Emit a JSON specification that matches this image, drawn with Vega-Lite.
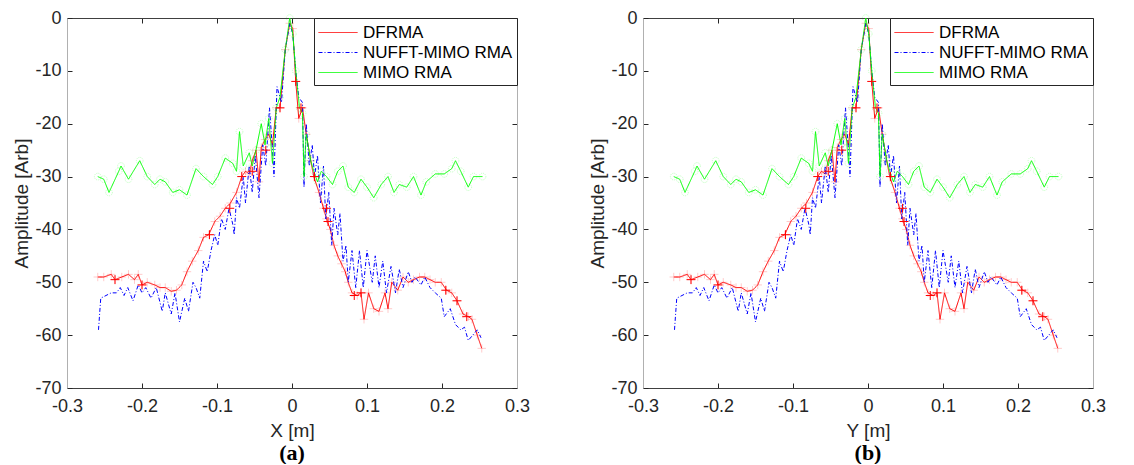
{
"$schema": "https://vega.github.io/schema/vega-lite/v6.json",
"background": "white",
"padding": {"left": 12, "top": 9, "right": 5, "bottom": 0},
"spacing": 58,
"config": {
  "font": "Liberation Sans",
  "view": {"stroke": null},
  "axis": {"grid": false, "labelFont": "Liberation Sans", "labelFontSize": 18, "labelColor": "#262626", "titleFont": "Liberation Sans", "titleFontSize": 19, "titleFontWeight": "normal", "titleColor": "#262626", "tickColor": "#262626", "domainColor": "#404040", "tickSize": -5, "labelPadding": 11, "labelFlush": false, "labelOverlap": false},
  "legend": {"labelFont": "Liberation Sans", "labelFontSize": 17, "labelColor": "#000000"}
},
"datasets": {
  "curves": [
    {"series":"DFRMA","x":-0.259,"y":-49},{"series":"DFRMA","x":-0.251,"y":-49},{"series":"DFRMA","x":-0.241,"y":-48.5},{"series":"DFRMA","x":-0.236,"y":-49.5},{"series":"DFRMA","x":-0.227,"y":-49},{"series":"DFRMA","x":-0.218,"y":-48.5},{"series":"DFRMA","x":-0.210,"y":-49.5},{"series":"DFRMA","x":-0.205,"y":-48.5},{"series":"DFRMA","x":-0.200,"y":-50.5},{"series":"DFRMA","x":-0.193,"y":-50},{"series":"DFRMA","x":-0.183,"y":-50.5},{"series":"DFRMA","x":-0.176,"y":-51},{"series":"DFRMA","x":-0.169,"y":-51},{"series":"DFRMA","x":-0.161,"y":-51.7},{"series":"DFRMA","x":-0.154,"y":-51.5},{"series":"DFRMA","x":-0.147,"y":-50.5},{"series":"DFRMA","x":-0.140,"y":-48},{"series":"DFRMA","x":-0.133,"y":-46},{"series":"DFRMA","x":-0.125,"y":-44},{"series":"DFRMA","x":-0.118,"y":-41.5},{"series":"DFRMA","x":-0.111,"y":-41},{"series":"DFRMA","x":-0.103,"y":-38.5},{"series":"DFRMA","x":-0.096,"y":-37.5},{"series":"DFRMA","x":-0.089,"y":-36},{"series":"DFRMA","x":-0.082,"y":-35},{"series":"DFRMA","x":-0.074,"y":-33},{"series":"DFRMA","x":-0.067,"y":-30},{"series":"DFRMA","x":-0.062,"y":-29},{"series":"DFRMA","x":-0.057,"y":-29.5},{"series":"DFRMA","x":-0.053,"y":-27},{"series":"DFRMA","x":-0.048,"y":-25},{"series":"DFRMA","x":-0.044,"y":-31},{"series":"DFRMA","x":-0.041,"y":-24.5},{"series":"DFRMA","x":-0.036,"y":-23},{"series":"DFRMA","x":-0.031,"y":-22},{"series":"DFRMA","x":-0.026,"y":-24},{"series":"DFRMA","x":-0.021,"y":-17},{"series":"DFRMA","x":-0.016,"y":-17},{"series":"DFRMA","x":-0.009,"y":-6},{"series":"DFRMA","x":-0.003,"y":-1},{"series":"DFRMA","x":0.001,"y":-2},{"series":"DFRMA","x":0.005,"y":-12},{"series":"DFRMA","x":0.009,"y":-19},{"series":"DFRMA","x":0.014,"y":-17},{"series":"DFRMA","x":0.019,"y":-22},{"series":"DFRMA","x":0.025,"y":-27},{"series":"DFRMA","x":0.029,"y":-30},{"series":"DFRMA","x":0.036,"y":-33},{"series":"DFRMA","x":0.042,"y":-36},{"series":"DFRMA","x":0.046,"y":-38},{"series":"DFRMA","x":0.051,"y":-40},{"series":"DFRMA","x":0.056,"y":-43},{"series":"DFRMA","x":0.061,"y":-45},{"series":"DFRMA","x":0.066,"y":-46.5},{"series":"DFRMA","x":0.071,"y":-48},{"series":"DFRMA","x":0.075,"y":-50},{"series":"DFRMA","x":0.080,"y":-52},{"series":"DFRMA","x":0.087,"y":-52.5},{"series":"DFRMA","x":0.092,"y":-52},{"series":"DFRMA","x":0.096,"y":-57},{"series":"DFRMA","x":0.102,"y":-52},{"series":"DFRMA","x":0.109,"y":-55},{"series":"DFRMA","x":0.116,"y":-55.5},{"series":"DFRMA","x":0.124,"y":-52},{"series":"DFRMA","x":0.128,"y":-55},{"series":"DFRMA","x":0.133,"y":-50},{"series":"DFRMA","x":0.141,"y":-51.5},{"series":"DFRMA","x":0.148,"y":-49},{"series":"DFRMA","x":0.155,"y":-50},{"series":"DFRMA","x":0.162,"y":-49.5},{"series":"DFRMA","x":0.170,"y":-49},{"series":"DFRMA","x":0.177,"y":-49},{"series":"DFRMA","x":0.184,"y":-49.5},{"series":"DFRMA","x":0.191,"y":-50},{"series":"DFRMA","x":0.199,"y":-50},{"series":"DFRMA","x":0.206,"y":-51.5},{"series":"DFRMA","x":0.213,"y":-52},{"series":"DFRMA","x":0.220,"y":-53.5},{"series":"DFRMA","x":0.228,"y":-56},{"series":"DFRMA","x":0.235,"y":-56.5},{"series":"DFRMA","x":0.240,"y":-57},{"series":"DFRMA","x":0.247,"y":-60},{"series":"DFRMA","x":0.253,"y":-62.5},
    {"series":"NUFFT-MIMO RMA","x":-0.258,"y":-59},{"series":"NUFFT-MIMO RMA","x":-0.255,"y":-53},{"series":"NUFFT-MIMO RMA","x":-0.248,"y":-52.5},{"series":"NUFFT-MIMO RMA","x":-0.241,"y":-52},{"series":"NUFFT-MIMO RMA","x":-0.234,"y":-52},{"series":"NUFFT-MIMO RMA","x":-0.229,"y":-51},{"series":"NUFFT-MIMO RMA","x":-0.224,"y":-52.5},{"series":"NUFFT-MIMO RMA","x":-0.219,"y":-51},{"series":"NUFFT-MIMO RMA","x":-0.212,"y":-53.5},{"series":"NUFFT-MIMO RMA","x":-0.205,"y":-50.5},{"series":"NUFFT-MIMO RMA","x":-0.200,"y":-52},{"series":"NUFFT-MIMO RMA","x":-0.195,"y":-51},{"series":"NUFFT-MIMO RMA","x":-0.188,"y":-53},{"series":"NUFFT-MIMO RMA","x":-0.181,"y":-51},{"series":"NUFFT-MIMO RMA","x":-0.173,"y":-55.5},{"series":"NUFFT-MIMO RMA","x":-0.169,"y":-52},{"series":"NUFFT-MIMO RMA","x":-0.161,"y":-56},{"series":"NUFFT-MIMO RMA","x":-0.156,"y":-52},{"series":"NUFFT-MIMO RMA","x":-0.150,"y":-57.5},{"series":"NUFFT-MIMO RMA","x":-0.143,"y":-53},{"series":"NUFFT-MIMO RMA","x":-0.138,"y":-55.5},{"series":"NUFFT-MIMO RMA","x":-0.132,"y":-50},{"series":"NUFFT-MIMO RMA","x":-0.128,"y":-51},{"series":"NUFFT-MIMO RMA","x":-0.123,"y":-53},{"series":"NUFFT-MIMO RMA","x":-0.118,"y":-46},{"series":"NUFFT-MIMO RMA","x":-0.113,"y":-48},{"series":"NUFFT-MIMO RMA","x":-0.108,"y":-44},{"series":"NUFFT-MIMO RMA","x":-0.103,"y":-41},{"series":"NUFFT-MIMO RMA","x":-0.099,"y":-43},{"series":"NUFFT-MIMO RMA","x":-0.094,"y":-38},{"series":"NUFFT-MIMO RMA","x":-0.089,"y":-40},{"series":"NUFFT-MIMO RMA","x":-0.084,"y":-36},{"series":"NUFFT-MIMO RMA","x":-0.079,"y":-39},{"series":"NUFFT-MIMO RMA","x":-0.077,"y":-41},{"series":"NUFFT-MIMO RMA","x":-0.074,"y":-34},{"series":"NUFFT-MIMO RMA","x":-0.070,"y":-36},{"series":"NUFFT-MIMO RMA","x":-0.065,"y":-30},{"series":"NUFFT-MIMO RMA","x":-0.062,"y":-35},{"series":"NUFFT-MIMO RMA","x":-0.057,"y":-28},{"series":"NUFFT-MIMO RMA","x":-0.053,"y":-33},{"series":"NUFFT-MIMO RMA","x":-0.049,"y":-26},{"series":"NUFFT-MIMO RMA","x":-0.044,"y":-34},{"series":"NUFFT-MIMO RMA","x":-0.039,"y":-24},{"series":"NUFFT-MIMO RMA","x":-0.035,"y":-28},{"series":"NUFFT-MIMO RMA","x":-0.030,"y":-17},{"series":"NUFFT-MIMO RMA","x":-0.026,"y":-25},{"series":"NUFFT-MIMO RMA","x":-0.024,"y":-30},{"series":"NUFFT-MIMO RMA","x":-0.020,"y":-13},{"series":"NUFFT-MIMO RMA","x":-0.014,"y":-16},{"series":"NUFFT-MIMO RMA","x":-0.009,"y":-6},{"series":"NUFFT-MIMO RMA","x":-0.003,"y":-1},{"series":"NUFFT-MIMO RMA","x":0.001,"y":-3},{"series":"NUFFT-MIMO RMA","x":0.005,"y":-10},{"series":"NUFFT-MIMO RMA","x":0.009,"y":-15},{"series":"NUFFT-MIMO RMA","x":0.014,"y":-16},{"series":"NUFFT-MIMO RMA","x":0.016,"y":-32},{"series":"NUFFT-MIMO RMA","x":0.019,"y":-20},{"series":"NUFFT-MIMO RMA","x":0.023,"y":-28},{"series":"NUFFT-MIMO RMA","x":0.027,"y":-24},{"series":"NUFFT-MIMO RMA","x":0.030,"y":-30},{"series":"NUFFT-MIMO RMA","x":0.034,"y":-26},{"series":"NUFFT-MIMO RMA","x":0.038,"y":-35},{"series":"NUFFT-MIMO RMA","x":0.042,"y":-28},{"series":"NUFFT-MIMO RMA","x":0.045,"y":-38},{"series":"NUFFT-MIMO RMA","x":0.049,"y":-33},{"series":"NUFFT-MIMO RMA","x":0.053,"y":-43},{"series":"NUFFT-MIMO RMA","x":0.056,"y":-36},{"series":"NUFFT-MIMO RMA","x":0.061,"y":-41},{"series":"NUFFT-MIMO RMA","x":0.064,"y":-37},{"series":"NUFFT-MIMO RMA","x":0.068,"y":-46},{"series":"NUFFT-MIMO RMA","x":0.072,"y":-43},{"series":"NUFFT-MIMO RMA","x":0.075,"y":-50},{"series":"NUFFT-MIMO RMA","x":0.080,"y":-44},{"series":"NUFFT-MIMO RMA","x":0.085,"y":-51},{"series":"NUFFT-MIMO RMA","x":0.090,"y":-44},{"series":"NUFFT-MIMO RMA","x":0.095,"y":-51},{"series":"NUFFT-MIMO RMA","x":0.100,"y":-44},{"series":"NUFFT-MIMO RMA","x":0.107,"y":-50},{"series":"NUFFT-MIMO RMA","x":0.111,"y":-45},{"series":"NUFFT-MIMO RMA","x":0.116,"y":-51},{"series":"NUFFT-MIMO RMA","x":0.121,"y":-46},{"series":"NUFFT-MIMO RMA","x":0.126,"y":-52},{"series":"NUFFT-MIMO RMA","x":0.132,"y":-47},{"series":"NUFFT-MIMO RMA","x":0.138,"y":-52},{"series":"NUFFT-MIMO RMA","x":0.143,"y":-47.5},{"series":"NUFFT-MIMO RMA","x":0.148,"y":-51},{"series":"NUFFT-MIMO RMA","x":0.155,"y":-48},{"series":"NUFFT-MIMO RMA","x":0.160,"y":-50},{"series":"NUFFT-MIMO RMA","x":0.164,"y":-49},{"series":"NUFFT-MIMO RMA","x":0.172,"y":-50.5},{"series":"NUFFT-MIMO RMA","x":0.177,"y":-49},{"series":"NUFFT-MIMO RMA","x":0.184,"y":-51},{"series":"NUFFT-MIMO RMA","x":0.191,"y":-52},{"series":"NUFFT-MIMO RMA","x":0.199,"y":-53},{"series":"NUFFT-MIMO RMA","x":0.203,"y":-56.5},{"series":"NUFFT-MIMO RMA","x":0.211,"y":-55},{"series":"NUFFT-MIMO RMA","x":0.218,"y":-58},{"series":"NUFFT-MIMO RMA","x":0.225,"y":-59},{"series":"NUFFT-MIMO RMA","x":0.230,"y":-58.5},{"series":"NUFFT-MIMO RMA","x":0.235,"y":-61},{"series":"NUFFT-MIMO RMA","x":0.241,"y":-60},{"series":"NUFFT-MIMO RMA","x":0.247,"y":-59},{"series":"NUFFT-MIMO RMA","x":0.252,"y":-60.5},
    {"series":"MIMO RMA","x":-0.259,"y":-30},{"series":"MIMO RMA","x":-0.251,"y":-30.5},{"series":"MIMO RMA","x":-0.244,"y":-33},{"series":"MIMO RMA","x":-0.231,"y":-29},{"series":"MIMO RMA","x":-0.228,"y":-28},{"series":"MIMO RMA","x":-0.218,"y":-30.5},{"series":"MIMO RMA","x":-0.203,"y":-27},{"series":"MIMO RMA","x":-0.193,"y":-30},{"series":"MIMO RMA","x":-0.183,"y":-31.5},{"series":"MIMO RMA","x":-0.176,"y":-30.5},{"series":"MIMO RMA","x":-0.169,"y":-31},{"series":"MIMO RMA","x":-0.159,"y":-33},{"series":"MIMO RMA","x":-0.150,"y":-32.5},{"series":"MIMO RMA","x":-0.140,"y":-33.5},{"series":"MIMO RMA","x":-0.128,"y":-28.5},{"series":"MIMO RMA","x":-0.118,"y":-30},{"series":"MIMO RMA","x":-0.106,"y":-31.5},{"series":"MIMO RMA","x":-0.099,"y":-30},{"series":"MIMO RMA","x":-0.089,"y":-26.5},{"series":"MIMO RMA","x":-0.079,"y":-27.5},{"series":"MIMO RMA","x":-0.074,"y":-29},{"series":"MIMO RMA","x":-0.070,"y":-21.5},{"series":"MIMO RMA","x":-0.065,"y":-28},{"series":"MIMO RMA","x":-0.057,"y":-25.5},{"series":"MIMO RMA","x":-0.053,"y":-28},{"series":"MIMO RMA","x":-0.048,"y":-25},{"series":"MIMO RMA","x":-0.041,"y":-20},{"series":"MIMO RMA","x":-0.036,"y":-24},{"series":"MIMO RMA","x":-0.031,"y":-19},{"series":"MIMO RMA","x":-0.026,"y":-27.5},{"series":"MIMO RMA","x":-0.021,"y":-17},{"series":"MIMO RMA","x":-0.016,"y":-15},{"series":"MIMO RMA","x":-0.009,"y":-6},{"series":"MIMO RMA","x":-0.003,"y":0},{"series":"MIMO RMA","x":0.001,"y":-3},{"series":"MIMO RMA","x":0.005,"y":-10},{"series":"MIMO RMA","x":0.010,"y":-17},{"series":"MIMO RMA","x":0.014,"y":-18},{"series":"MIMO RMA","x":0.016,"y":-30},{"series":"MIMO RMA","x":0.019,"y":-22},{"series":"MIMO RMA","x":0.025,"y":-27},{"series":"MIMO RMA","x":0.029,"y":-29},{"series":"MIMO RMA","x":0.034,"y":-31},{"series":"MIMO RMA","x":0.039,"y":-29},{"series":"MIMO RMA","x":0.046,"y":-30},{"series":"MIMO RMA","x":0.054,"y":-31.5},{"series":"MIMO RMA","x":0.061,"y":-29},{"series":"MIMO RMA","x":0.068,"y":-28},{"series":"MIMO RMA","x":0.075,"y":-32},{"series":"MIMO RMA","x":0.083,"y":-33},{"series":"MIMO RMA","x":0.092,"y":-30.5},{"series":"MIMO RMA","x":0.100,"y":-32},{"series":"MIMO RMA","x":0.109,"y":-34},{"series":"MIMO RMA","x":0.119,"y":-31.5},{"series":"MIMO RMA","x":0.128,"y":-30},{"series":"MIMO RMA","x":0.136,"y":-33},{"series":"MIMO RMA","x":0.143,"y":-31.5},{"series":"MIMO RMA","x":0.153,"y":-32},{"series":"MIMO RMA","x":0.162,"y":-30},{"series":"MIMO RMA","x":0.172,"y":-33.5},{"series":"MIMO RMA","x":0.179,"y":-31},{"series":"MIMO RMA","x":0.191,"y":-29.5},{"series":"MIMO RMA","x":0.203,"y":-29.5},{"series":"MIMO RMA","x":0.213,"y":-28.5},{"series":"MIMO RMA","x":0.218,"y":-27},{"series":"MIMO RMA","x":0.225,"y":-29},{"series":"MIMO RMA","x":0.235,"y":-32},{"series":"MIMO RMA","x":0.242,"y":-30},{"series":"MIMO RMA","x":0.254,"y":-30}
  ],
  "dfrma_marks": [
    {"x":-0.236,"y":-49.5},{"x":-0.200,"y":-50.5},{"x":-0.110,"y":-41},{"x":-0.083,"y":-36},{"x":-0.067,"y":-30},{"x":-0.053,"y":-29},{"x":-0.035,"y":-25},{"x":-0.016,"y":-17},{"x":0.005,"y":-12},{"x":0.012,"y":-17},{"x":0.030,"y":-30},{"x":0.046,"y":-36},{"x":0.048,"y":-38.5},{"x":0.083,"y":-52.5},{"x":0.092,"y":-52},{"x":0.205,"y":-51.5},{"x":0.220,"y":-53.5},{"x":0.233,"y":-56.5}
  ]
},
"hconcat": [
  {
    "width": 450, "height": 370,
    "title": {"text": "(a)", "orient": "bottom", "font": "Liberation Serif", "fontSize": 22, "fontWeight": "bold", "color": "#000000", "offset": 3},
    "resolve": {"axis": {"x": "independent", "y": "independent"}},
    "layer": [
      {"data": {"name": "curves"}, "transform": [{"filter": "datum.series === 'DFRMA'"}],
       "mark": {"type": "line", "strokeWidth": 1, "clip": true},
       "encoding": {
         "x": {"field": "x", "type": "quantitative", "scale": {"domain": [-0.3, 0.3], "nice": false}, "axis": {"orient": "bottom", "title": "X [m]", "values": [-0.3,-0.2,-0.1,0,0.1,0.2,0.3], "labelExpr": "'' + datum.value", "labelPadding": 14, "titlePadding": 6, "labelFontSize": 18, "titleFontSize": 19}},
         "y": {"field": "y", "type": "quantitative", "scale": {"domain": [-70, 0], "nice": false}, "axis": {"orient": "left", "title": "Amplitude [Arb]", "values": [-70,-60,-50,-40,-30,-20,-10,0], "labelExpr": "'' + datum.value", "titlePadding": 3, "domainColor": "#b0b0b0", "labelFontSize": 18, "titleFontSize": 19}},
         "color": {"field": "series", "type": "nominal", "scale": {"domain": ["DFRMA","NUFFT-MIMO RMA","MIMO RMA"], "range": ["#ff0000","#0000ff","#00ff00"]}, "legend": {"title": null, "orient": "top-right", "offset": 0, "fillColor": "white", "strokeColor": "#262626", "padding": 4, "symbolType": "M-1,0H2.9", "symbolSize": 400, "symbolStrokeWidth": 1, "symbolFillColor": "transparent", "labelOffset": 24, "rowPadding": 1, "labelFontSize": 17}},
         "strokeDash": {"field": "series", "type": "nominal", "scale": {"domain": ["DFRMA","NUFFT-MIMO RMA","MIMO RMA"], "range": [[1,0],[4,2,1,2],[1,0]]}, "legend": {"title": null}}
       }},
      {"data": {"name": "curves"}, "transform": [{"filter": "datum.series === 'DFRMA'"}],
       "mark": {"type": "point", "shape": "M-1,0H1M0,-1V1", "filled": false, "size": 70, "strokeWidth": 1, "color": "#ff0000", "opacity": 0.2},
       "encoding": {"x": {"field": "x", "type": "quantitative", "axis": {"orient": "top", "labels": false, "title": null, "values": [-0.3,-0.2,-0.1,0,0.1,0.2,0.3]}}, "y": {"field": "y", "type": "quantitative", "axis": {"orient": "right", "labels": false, "title": null, "values": [-70,-60,-50,-40,-30,-20,-10,0], "domainColor": "#b0b0b0"}}}},
      {"data": {"name": "curves"}, "transform": [{"filter": "datum.series === 'NUFFT-MIMO RMA'"}],
       "mark": {"type": "line", "strokeWidth": 1},
       "encoding": {"x": {"field": "x", "type": "quantitative", "axis": null}, "y": {"field": "y", "type": "quantitative", "axis": null}, "color": {"field": "series", "type": "nominal"}, "strokeDash": {"field": "series", "type": "nominal"}}},
      {"data": {"name": "curves"}, "transform": [{"filter": "datum.series === 'MIMO RMA'"}],
       "mark": {"type": "point", "shape": "circle", "filled": false, "size": 45, "strokeWidth": 0.8, "color": "#00ff00", "opacity": 0.3, "strokeDash": [1,1]},
       "encoding": {"x": {"field": "x", "type": "quantitative", "axis": null}, "y": {"field": "y", "type": "quantitative", "axis": null}}},
      {"data": {"name": "curves"}, "transform": [{"filter": "datum.series === 'MIMO RMA'"}],
       "mark": {"type": "line", "strokeWidth": 1},
       "encoding": {"x": {"field": "x", "type": "quantitative", "axis": null}, "y": {"field": "y", "type": "quantitative", "axis": null}, "color": {"field": "series", "type": "nominal"}, "strokeDash": {"field": "series", "type": "nominal"}}},
      {"data": {"name": "dfrma_marks"},
       "mark": {"type": "point", "shape": "M-1,0H1M0,-1V1", "filled": false, "size": 80, "strokeWidth": 1, "color": "#ff0000", "opacity": 1},
       "encoding": {"x": {"field": "x", "type": "quantitative", "axis": null}, "y": {"field": "y", "type": "quantitative", "axis": null}}}
    ]
  },
  {
    "width": 450, "height": 370,
    "title": {"text": "(b)", "orient": "bottom", "font": "Liberation Serif", "fontSize": 22, "fontWeight": "bold", "color": "#000000", "offset": 3},
    "resolve": {"axis": {"x": "independent", "y": "independent"}},
    "layer": [
      {"data": {"name": "curves"}, "transform": [{"filter": "datum.series === 'DFRMA'"}],
       "mark": {"type": "line", "strokeWidth": 1, "clip": true},
       "encoding": {
         "x": {"field": "x", "type": "quantitative", "scale": {"domain": [-0.3, 0.3], "nice": false}, "axis": {"orient": "bottom", "title": "Y [m]", "values": [-0.3,-0.2,-0.1,0,0.1,0.2,0.3], "labelExpr": "'' + datum.value", "labelPadding": 14, "titlePadding": 6, "labelFontSize": 18, "titleFontSize": 19}},
         "y": {"field": "y", "type": "quantitative", "scale": {"domain": [-70, 0], "nice": false}, "axis": {"orient": "left", "title": "Amplitude [Arb]", "values": [-70,-60,-50,-40,-30,-20,-10,0], "labelExpr": "'' + datum.value", "titlePadding": 3, "domainColor": "#b0b0b0", "labelFontSize": 18, "titleFontSize": 19}},
         "color": {"field": "series", "type": "nominal", "scale": {"domain": ["DFRMA","NUFFT-MIMO RMA","MIMO RMA"], "range": ["#ff0000","#0000ff","#00ff00"]}, "legend": {"title": null, "orient": "top-right", "offset": 0, "fillColor": "white", "strokeColor": "#262626", "padding": 4, "symbolType": "M-1,0H2.9", "symbolSize": 400, "symbolStrokeWidth": 1, "symbolFillColor": "transparent", "labelOffset": 24, "rowPadding": 1, "labelFontSize": 17}},
         "strokeDash": {"field": "series", "type": "nominal", "scale": {"domain": ["DFRMA","NUFFT-MIMO RMA","MIMO RMA"], "range": [[1,0],[4,2,1,2],[1,0]]}, "legend": {"title": null}}
       }},
      {"data": {"name": "curves"}, "transform": [{"filter": "datum.series === 'DFRMA'"}],
       "mark": {"type": "point", "shape": "M-1,0H1M0,-1V1", "filled": false, "size": 70, "strokeWidth": 1, "color": "#ff0000", "opacity": 0.2},
       "encoding": {"x": {"field": "x", "type": "quantitative", "axis": {"orient": "top", "labels": false, "title": null, "values": [-0.3,-0.2,-0.1,0,0.1,0.2,0.3]}}, "y": {"field": "y", "type": "quantitative", "axis": {"orient": "right", "labels": false, "title": null, "values": [-70,-60,-50,-40,-30,-20,-10,0], "domainColor": "#b0b0b0"}}}},
      {"data": {"name": "curves"}, "transform": [{"filter": "datum.series === 'NUFFT-MIMO RMA'"}],
       "mark": {"type": "line", "strokeWidth": 1},
       "encoding": {"x": {"field": "x", "type": "quantitative", "axis": null}, "y": {"field": "y", "type": "quantitative", "axis": null}, "color": {"field": "series", "type": "nominal"}, "strokeDash": {"field": "series", "type": "nominal"}}},
      {"data": {"name": "curves"}, "transform": [{"filter": "datum.series === 'MIMO RMA'"}],
       "mark": {"type": "point", "shape": "circle", "filled": false, "size": 45, "strokeWidth": 0.8, "color": "#00ff00", "opacity": 0.3, "strokeDash": [1,1]},
       "encoding": {"x": {"field": "x", "type": "quantitative", "axis": null}, "y": {"field": "y", "type": "quantitative", "axis": null}}},
      {"data": {"name": "curves"}, "transform": [{"filter": "datum.series === 'MIMO RMA'"}],
       "mark": {"type": "line", "strokeWidth": 1},
       "encoding": {"x": {"field": "x", "type": "quantitative", "axis": null}, "y": {"field": "y", "type": "quantitative", "axis": null}, "color": {"field": "series", "type": "nominal"}, "strokeDash": {"field": "series", "type": "nominal"}}},
      {"data": {"name": "dfrma_marks"},
       "mark": {"type": "point", "shape": "M-1,0H1M0,-1V1", "filled": false, "size": 80, "strokeWidth": 1, "color": "#ff0000", "opacity": 1},
       "encoding": {"x": {"field": "x", "type": "quantitative", "axis": null}, "y": {"field": "y", "type": "quantitative", "axis": null}}}
    ]
  }
],
"resolve": {"legend": {"color": "independent", "strokeDash": "independent"}}
}
